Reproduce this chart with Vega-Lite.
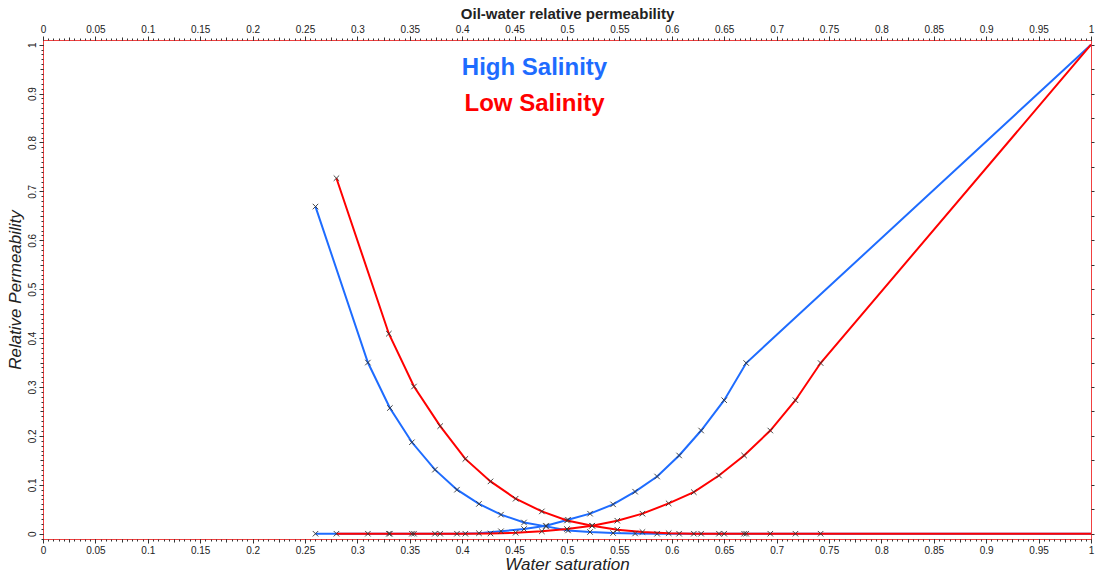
{
  "$schema": "https://vega.github.io/schema/vega-lite/v6.json",
  "width": 1048,
  "height": 499,
  "autosize": {"type": "none"},
  "padding": {"left": 43, "top": 40, "right": 6, "bottom": 41},
  "background": "white",
  "config": {
    "view": {"stroke": "#f04040", "strokeWidth": 1},
    "axis": {
      "domain": false, "grid": false,
      "labelFont": "Liberation Sans", "labelFontSize": 10, "labelColor": "#222",
      "tickColor": "#333", "tickWidth": 1,
      "titleFont": "Liberation Sans", "titleColor": "#222",
      "labelFlush": false, "labelOverlap": false
    }
  },
  "datasets": {
    "kr": [
      {"s": "High Salinity", "k": "kro", "sw": 0.26, "kr": 0.669},
      {"s": "High Salinity", "k": "kro", "sw": 0.31, "kr": 0.35},
      {"s": "High Salinity", "k": "kro", "sw": 0.331, "kr": 0.257},
      {"s": "High Salinity", "k": "kro", "sw": 0.352, "kr": 0.187},
      {"s": "High Salinity", "k": "kro", "sw": 0.374, "kr": 0.131},
      {"s": "High Salinity", "k": "kro", "sw": 0.395, "kr": 0.09},
      {"s": "High Salinity", "k": "kro", "sw": 0.416, "kr": 0.061},
      {"s": "High Salinity", "k": "kro", "sw": 0.437, "kr": 0.039},
      {"s": "High Salinity", "k": "kro", "sw": 0.459, "kr": 0.023},
      {"s": "High Salinity", "k": "kro", "sw": 0.48, "kr": 0.015},
      {"s": "High Salinity", "k": "kro", "sw": 0.501, "kr": 0.0067},
      {"s": "High Salinity", "k": "kro", "sw": 0.522, "kr": 0.0035},
      {"s": "High Salinity", "k": "kro", "sw": 0.544, "kr": 0.0014},
      {"s": "High Salinity", "k": "kro", "sw": 0.565, "kr": 0.0005},
      {"s": "High Salinity", "k": "kro", "sw": 0.586, "kr": 0},
      {"s": "High Salinity", "k": "kro", "sw": 0.607, "kr": 0},
      {"s": "High Salinity", "k": "kro", "sw": 0.628, "kr": 0},
      {"s": "High Salinity", "k": "kro", "sw": 0.65, "kr": 0},
      {"s": "High Salinity", "k": "kro", "sw": 0.671, "kr": 0},
      {"s": "High Salinity", "k": "kro", "sw": 1.0, "kr": 0},
      {"s": "High Salinity", "k": "krw", "sw": 0.26, "kr": 0},
      {"s": "High Salinity", "k": "krw", "sw": 0.31, "kr": 0},
      {"s": "High Salinity", "k": "krw", "sw": 0.331, "kr": 0},
      {"s": "High Salinity", "k": "krw", "sw": 0.352, "kr": 0},
      {"s": "High Salinity", "k": "krw", "sw": 0.374, "kr": 0},
      {"s": "High Salinity", "k": "krw", "sw": 0.395, "kr": 0},
      {"s": "High Salinity", "k": "krw", "sw": 0.416, "kr": 0.001},
      {"s": "High Salinity", "k": "krw", "sw": 0.437, "kr": 0.005},
      {"s": "High Salinity", "k": "krw", "sw": 0.459, "kr": 0.0096},
      {"s": "High Salinity", "k": "krw", "sw": 0.48, "kr": 0.0164},
      {"s": "High Salinity", "k": "krw", "sw": 0.501, "kr": 0.0286},
      {"s": "High Salinity", "k": "krw", "sw": 0.522, "kr": 0.041},
      {"s": "High Salinity", "k": "krw", "sw": 0.544, "kr": 0.06},
      {"s": "High Salinity", "k": "krw", "sw": 0.565, "kr": 0.086},
      {"s": "High Salinity", "k": "krw", "sw": 0.586, "kr": 0.117},
      {"s": "High Salinity", "k": "krw", "sw": 0.607, "kr": 0.16},
      {"s": "High Salinity", "k": "krw", "sw": 0.628, "kr": 0.211},
      {"s": "High Salinity", "k": "krw", "sw": 0.65, "kr": 0.273},
      {"s": "High Salinity", "k": "krw", "sw": 0.671, "kr": 0.349},
      {"s": "High Salinity", "k": "krw", "sw": 1.0, "kr": 1.0},
      {"s": "Low Salinity", "k": "kro", "sw": 0.28, "kr": 0.727},
      {"s": "Low Salinity", "k": "kro", "sw": 0.33, "kr": 0.409},
      {"s": "Low Salinity", "k": "kro", "sw": 0.354, "kr": 0.301},
      {"s": "Low Salinity", "k": "kro", "sw": 0.379, "kr": 0.22},
      {"s": "Low Salinity", "k": "kro", "sw": 0.403, "kr": 0.153},
      {"s": "Low Salinity", "k": "kro", "sw": 0.427, "kr": 0.107},
      {"s": "Low Salinity", "k": "kro", "sw": 0.451, "kr": 0.0716},
      {"s": "Low Salinity", "k": "kro", "sw": 0.476, "kr": 0.0456},
      {"s": "Low Salinity", "k": "kro", "sw": 0.5, "kr": 0.027},
      {"s": "Low Salinity", "k": "kro", "sw": 0.524, "kr": 0.0164},
      {"s": "Low Salinity", "k": "kro", "sw": 0.548, "kr": 0.0082},
      {"s": "Low Salinity", "k": "kro", "sw": 0.572, "kr": 0.0035},
      {"s": "Low Salinity", "k": "kro", "sw": 0.597, "kr": 0.001},
      {"s": "Low Salinity", "k": "kro", "sw": 0.621, "kr": 0},
      {"s": "Low Salinity", "k": "kro", "sw": 0.645, "kr": 0},
      {"s": "Low Salinity", "k": "kro", "sw": 0.669, "kr": 0},
      {"s": "Low Salinity", "k": "kro", "sw": 0.694, "kr": 0},
      {"s": "Low Salinity", "k": "kro", "sw": 0.718, "kr": 0},
      {"s": "Low Salinity", "k": "kro", "sw": 0.742, "kr": 0},
      {"s": "Low Salinity", "k": "kro", "sw": 1.0, "kr": 0},
      {"s": "Low Salinity", "k": "krw", "sw": 0.28, "kr": 0},
      {"s": "Low Salinity", "k": "krw", "sw": 0.33, "kr": 0},
      {"s": "Low Salinity", "k": "krw", "sw": 0.354, "kr": 0},
      {"s": "Low Salinity", "k": "krw", "sw": 0.379, "kr": 0},
      {"s": "Low Salinity", "k": "krw", "sw": 0.403, "kr": 0},
      {"s": "Low Salinity", "k": "krw", "sw": 0.427, "kr": 0.0005},
      {"s": "Low Salinity", "k": "krw", "sw": 0.451, "kr": 0.002},
      {"s": "Low Salinity", "k": "krw", "sw": 0.476, "kr": 0.005},
      {"s": "Low Salinity", "k": "krw", "sw": 0.5, "kr": 0.0096},
      {"s": "Low Salinity", "k": "krw", "sw": 0.524, "kr": 0.0164},
      {"s": "Low Salinity", "k": "krw", "sw": 0.548, "kr": 0.0266},
      {"s": "Low Salinity", "k": "krw", "sw": 0.572, "kr": 0.041},
      {"s": "Low Salinity", "k": "krw", "sw": 0.597, "kr": 0.062},
      {"s": "Low Salinity", "k": "krw", "sw": 0.621, "kr": 0.085},
      {"s": "Low Salinity", "k": "krw", "sw": 0.645, "kr": 0.119},
      {"s": "Low Salinity", "k": "krw", "sw": 0.669, "kr": 0.16},
      {"s": "Low Salinity", "k": "krw", "sw": 0.694, "kr": 0.211},
      {"s": "Low Salinity", "k": "krw", "sw": 0.718, "kr": 0.273},
      {"s": "Low Salinity", "k": "krw", "sw": 0.742, "kr": 0.349},
      {"s": "Low Salinity", "k": "krw", "sw": 1.0, "kr": 1.0}
    ],
    "labels": [
      {"s": "High Salinity", "sw": 0.469, "kr": 0.9387},
      {"s": "Low Salinity", "sw": 0.469, "kr": 0.8636}
    ]
  },
  "layer": [
    {
      "data": {"name": "kr"},
      "transform": [{"filter": "datum.s === 'High Salinity'"}],
      "mark": {"type": "line", "strokeWidth": 2},
      "encoding": {
        "x": {"field": "sw", "type": "quantitative",
          "scale": {"domain": [0, 1], "nice": false, "zero": false},
          "axis": {"orient": "bottom", "values": [0,0.05,0.1,0.15,0.2,0.25,0.3,0.35,0.4,0.45,0.5,0.55,0.6,0.65,0.7,0.75,0.8,0.85,0.9,0.95,1],
            "format": "~g", "tickSize": 4, "labelPadding": 2,
            "title": "Water saturation", "titleFontSize": 17, "titleFontStyle": "italic", "titleFontWeight": "normal", "titlePadding": 1}},
        "y": {"field": "kr", "type": "quantitative",
          "scale": {"domain": [-0.0108, 1.0096], "nice": false, "zero": false},
          "axis": {"orient": "left", "values": [0,0.1,0.2,0.3,0.4,0.5,0.6,0.7,0.8,0.9,1],
            "format": "~g", "tickSize": 4, "labelPadding": 2, "labelAngle": -90, "labelAlign": "center", "labelBaseline": "bottom",
            "title": "Relative Permeability", "titleFontSize": 17, "titleFontStyle": "italic", "titleFontWeight": "normal", "titlePadding": 3}},
        "color": {"field": "s", "type": "nominal", "scale": {"domain": ["High Salinity", "Low Salinity"], "range": ["#1e6cff", "#ff0000"]}, "legend": null},
        "detail": {"field": "k"}
      }
    },
    {
      "data": {"name": "kr"},
      "transform": [{"filter": "datum.s === 'Low Salinity'"}],
      "mark": {"type": "line", "strokeWidth": 2},
      "encoding": {
        "x": {"field": "sw", "type": "quantitative",
          "axis": {"orient": "bottom", "tickCount": 200, "labels": false, "tickSize": 2, "title": null}},
        "y": {"field": "kr", "type": "quantitative",
          "axis": {"orient": "left", "tickCount": 100, "labels": false, "tickSize": 2, "title": null}},
        "color": {"field": "s", "type": "nominal", "legend": null},
        "detail": {"field": "k"}
      }
    },
    {
      "data": {"name": "kr"},
      "transform": [{"filter": "datum.sw < 1"}],
      "mark": {"type": "point", "shape": "M-1,-1L1,1M-1,1L1,-1", "filled": false, "color": "#333", "strokeWidth": 1, "size": 30, "opacity": 0.9},
      "encoding": {
        "x": {"field": "sw", "type": "quantitative",
          "axis": {"orient": "bottom", "values": [0,0.025,0.05,0.075,0.1,0.125,0.15,0.175,0.2,0.225,0.25,0.275,0.3,0.325,0.35,0.375,0.4,0.425,0.45,0.475,0.5,0.525,0.55,0.575,0.6,0.625,0.65,0.675,0.7,0.725,0.75,0.775,0.8,0.825,0.85,0.875,0.9,0.925,0.95,0.975,1],
            "labels": false, "tickSize": 3, "title": null}},
        "y": {"field": "kr", "type": "quantitative",
          "axis": {"orient": "left", "values": [0,0.05,0.1,0.15,0.2,0.25,0.3,0.35,0.4,0.45,0.5,0.55,0.6,0.65,0.7,0.75,0.8,0.85,0.9,0.95,1],
            "labels": false, "tickSize": 3, "title": null}}
      }
    },
    {
      "data": {"name": "labels"},
      "mark": {"type": "text", "font": "Liberation Sans", "fontSize": 24, "fontWeight": "bold", "align": "center", "baseline": "alphabetic"},
      "encoding": {
        "x": {"field": "sw", "type": "quantitative",
          "axis": {"orient": "top", "values": [0,0.05,0.1,0.15,0.2,0.25,0.3,0.35,0.4,0.45,0.5,0.55,0.6,0.65,0.7,0.75,0.8,0.85,0.9,0.95,1],
            "format": "~g", "tickSize": 4, "labelPadding": 2,
            "title": "Oil-water relative permeability", "titleFontSize": 15, "titleFontWeight": "bold", "titlePadding": 3}},
        "y": {"field": "kr", "type": "quantitative",
          "axis": {"orient": "right", "values": [0,0.05,0.1,0.15,0.2,0.25,0.3,0.35,0.4,0.45,0.5,0.55,0.6,0.65,0.7,0.75,0.8,0.85,0.9,0.95,1],
            "labels": false, "tickSize": 3, "title": null}},
        "text": {"field": "s"},
        "color": {"field": "s", "type": "nominal", "legend": null}
      }
    },
    {
      "data": {"name": "kr"},
      "mark": {"type": "point", "opacity": 0},
      "encoding": {
        "x": {"field": "sw", "type": "quantitative",
          "axis": {"orient": "top", "tickCount": 200, "labels": false, "tickSize": 2, "title": null}},
        "y": {"field": "kr", "type": "quantitative", "axis": null}
      }
    },
    {
      "data": {"name": "kr"},
      "mark": {"type": "point", "opacity": 0},
      "encoding": {
        "x": {"field": "sw", "type": "quantitative",
          "axis": {"orient": "top", "values": [0,0.025,0.05,0.075,0.1,0.125,0.15,0.175,0.2,0.225,0.25,0.275,0.3,0.325,0.35,0.375,0.4,0.425,0.45,0.475,0.5,0.525,0.55,0.575,0.6,0.625,0.65,0.675,0.7,0.725,0.75,0.775,0.8,0.825,0.85,0.875,0.9,0.925,0.95,0.975,1],
            "labels": false, "tickSize": 3, "title": null}},
        "y": {"field": "kr", "type": "quantitative", "axis": null}
      }
    }
  ],
  "resolve": {"axis": {"x": "independent", "y": "independent"}}
}
